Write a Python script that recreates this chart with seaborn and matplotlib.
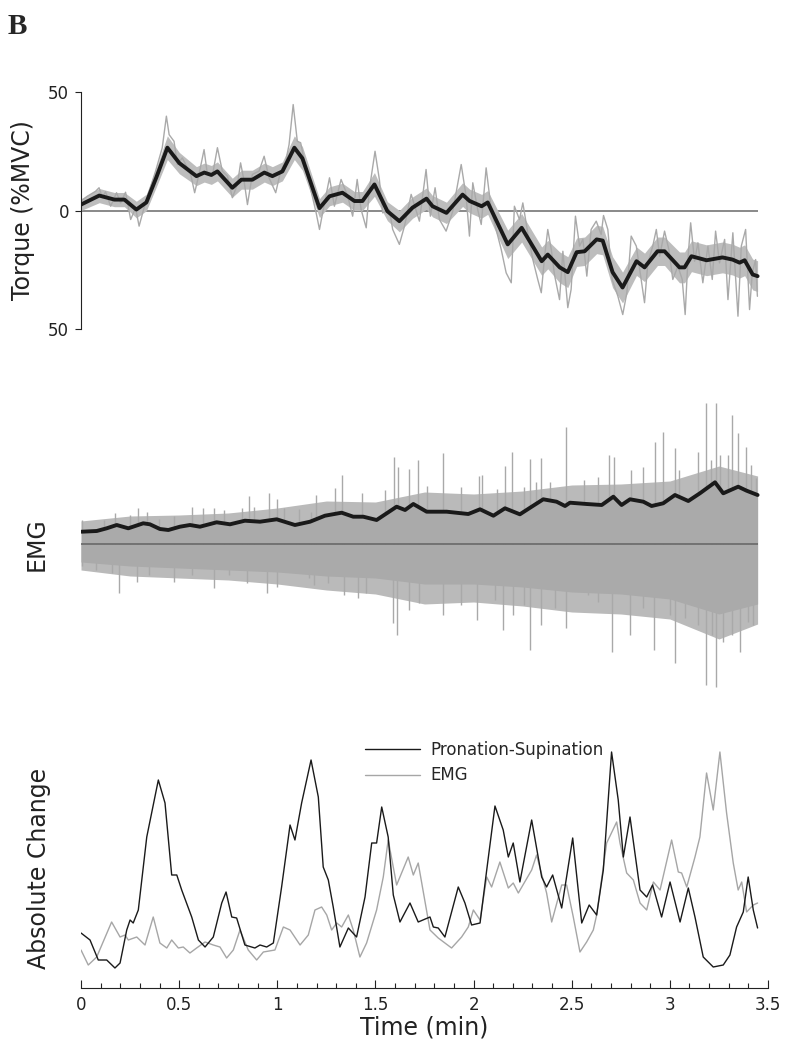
import numpy as np
import pandas as pd
import matplotlib
matplotlib.use("Agg")
import matplotlib.pyplot as plt
from matplotlib.ticker import MultipleLocator
import seaborn as sns

sns.set_style("white")
plt.rcParams["font.family"] = ["DejaVu Sans"]

# ---------------- Panel 1: torque ----------------
torque_smooth_t = [0.0, 0.093, 0.170, 0.221, 0.282, 0.333, 0.384, 0.440, 0.501, 0.588, 0.628, 0.664,
                   0.695, 0.771, 0.817, 0.873, 0.934, 0.975, 1.026, 1.087, 1.128, 1.215, 1.266, 1.332,
                   1.393, 1.434, 1.495, 1.561, 1.622, 1.689, 1.760, 1.791, 1.862, 1.944, 1.980, 2.041,
                   2.072, 2.174, 2.245, 2.347, 2.378, 2.439, 2.480, 2.525, 2.566, 2.627, 2.658, 2.708,
                   2.759, 2.830, 2.871, 2.937, 2.973, 3.049, 3.075, 3.110, 3.187, 3.268, 3.319, 3.355,
                   3.381, 3.422, 3.447]
torque_smooth_v = [2.5, 6.3, 4.6, 4.6, 0.4, 3.4, 14, 26.5, 20, 14.5, 16, 15,
                   16.5, 9.6, 13, 13, 16, 14.5, 16.5, 26.5, 22, 1, 6, 7.5,
                   4, 4, 11, -0.3, -4.5, 1.2, 5, 1.8, -1, 6.7, 4, 1.8,
                   3.4, -14.3, -7.3, -21.4, -18.6, -24, -26, -17.6, -17.2, -12.2, -12.7, -26,
                   -32.5, -21.4, -24, -17.2, -17.2, -24, -24, -19.3, -21, -19.8, -20.7, -22,
                   -21, -27, -27.7]
# half-width of the dense noise band around the smoothed torque
torque_band_hw = [2.5, 3, 3, 3, 3.5, 3.5, 4, 5, 4.5, 4, 4, 4,
                  4, 4, 4, 4, 4, 4, 4, 5, 5, 4, 4, 4,
                  4, 4, 5, 4, 4.5, 4.5, 4.5, 4.5, 4.5, 5, 5, 5,
                  5, 6, 6, 6, 6, 6.5, 6.5, 6, 6, 6, 6, 6.5,
                  6.5, 6, 6, 6, 6, 6.5, 6.5, 6.5, 6.5, 6.5, 6.5, 6.5,
                  6.5, 6.5, 6.5]

torque_raw_t = [0.0, 0.032, 0.074, 0.092, 0.109, 0.125, 0.151, 0.181, 0.202, 0.227, 0.253, 0.278,
                0.296, 0.321, 0.347, 0.380, 0.414, 0.435, 0.449, 0.474, 0.491, 0.516, 0.559, 0.579,
                0.601, 0.627, 0.644, 0.669, 0.695, 0.720, 0.746, 0.771, 0.797, 0.813, 0.831, 0.848,
                0.873, 0.907, 0.933, 0.958, 0.992, 1.017, 1.043, 1.060, 1.081, 1.102, 1.119, 1.145,
                1.170, 1.198, 1.215, 1.231, 1.266, 1.291, 1.325, 1.359, 1.384, 1.407, 1.427, 1.453,
                1.469, 1.498, 1.520, 1.537, 1.571, 1.588, 1.622, 1.648, 1.682, 1.724, 1.758, 1.780,
                1.804, 1.826, 1.860, 1.894, 1.937, 1.962, 1.979, 1.996, 2.021, 2.039, 2.064, 2.090,
                2.115, 2.141, 2.166, 2.192, 2.208, 2.234, 2.251, 2.276, 2.302, 2.327, 2.345, 2.362,
                2.378, 2.396, 2.412, 2.438, 2.455, 2.480, 2.497, 2.519, 2.540, 2.557, 2.577, 2.599,
                2.625, 2.650, 2.662, 2.684, 2.706, 2.735, 2.760, 2.781, 2.803, 2.829, 2.854, 2.871,
                2.888, 2.913, 2.931, 2.948, 2.973, 2.995, 3.015, 3.041, 3.063, 3.078, 3.092, 3.106,
                3.126, 3.143, 3.168, 3.194, 3.216, 3.233, 3.253, 3.279, 3.296, 3.321, 3.347, 3.364,
                3.386, 3.406, 3.420, 3.437, 3.446]
torque_raw_v = [3.9, 6.0, 8.1, 9.6, 5.4, 7.9, 1.8, 7.5, 3.2, 7.7, -3.8, 1.1,
                -6.6, 1.1, 8.1, 16.6, 26.5, 39.8, 32, 29.2, 19.4, 22.2, 15.2, 7.5,
                15.2, 25.7, 15.2, 14.5, 26.5, 16.6, 14.5, 5.4, 11, 20.1, 12.4, 2.5,
                15.2, 16.6, 22.9, 13.8, 7.5, 16.6, 20.8, 27.8, 44.7, 29.2, 28.6, 18,
                9, -1, -8, -1, 13.8, 1.8, 13.1, 6, -2.4, 13.1, 0.4, -7.3,
                8.9, 25, 13.1, -1, 0.4, -8, -14.3, -6.6, 6.8, -4.5, 17.3, -2.4,
                9.6, -3.8, -8.7, -0.3, 19.4, 6, -10.8, 11.7, 0.4, -5.9, 18, 0.4,
                -8, -16.5, -26.3, -30.5, 1.8, -3.8, 3.2, -9.4, -20.7, -29.1, -34.7, -19.3,
                -8, -16.5, -27, -37.6, -17.2, -41, -33.3, -2.4, -15, -12.2, -27.7, -8,
                -4.5, -10.1, -2.1, -8, -29.1, -36.1, -43.9, -34.7, -10.8, -15, -29.1, -38.9,
                -22.1, -15, -8, -19.3, -8.7, -16.5, -29.1, -23.5, -29.1, -43.9, -20.7, -5.2,
                -21.4, -13.6, -30.5, -15, -29.1, -8.7, -22.1, -12.2, -37.6, -9.4, -44.6, -15,
                -8, -41.8, -26.3, -20.7, -36.2]

torque_ticks = [-50, 0, 50]
torque_ticklabels = ["50", "0", "50"]

# ---------------- Panel 2: EMG ----------------
emg_env_t = [0.003, 0.080, 0.131, 0.182, 0.241, 0.317, 0.351, 0.402, 0.445, 0.504, 0.555, 0.606,
             0.691, 0.759, 0.835, 0.912, 0.997, 1.090, 1.167, 1.243, 1.328, 1.387, 1.438, 1.506,
             1.608, 1.651, 1.693, 1.761, 1.863, 1.973, 2.033, 2.101, 2.160, 2.236, 2.296, 2.355,
             2.423, 2.466, 2.491, 2.576, 2.653, 2.712, 2.754, 2.797, 2.865, 2.907, 2.966, 3.026,
             3.094, 3.153, 3.230, 3.272, 3.348, 3.391, 3.447]
emg_env_v = [1.23, 1.3, 1.57, 1.9, 1.57, 2.07, 1.97, 1.5, 1.4, 1.73, 1.9, 1.73,
             2.17, 1.97, 2.33, 2.23, 2.47, 1.9, 2.23, 2.83, 3.13, 2.73, 2.73, 2.4,
             3.73, 3.4, 4.0, 3.23, 3.23, 3.0, 3.47, 2.83, 3.57, 2.97, 3.73, 4.47,
             4.23, 3.8, 4.13, 4.0, 3.9, 4.73, 3.9, 4.47, 4.23, 3.8, 4.07, 4.9,
             4.3, 5.07, 6.17, 5.07, 5.73, 5.33, 4.9]

emg_bin_t = [0.0, 0.25, 0.5, 0.75, 1.0, 1.25, 1.5, 1.75, 2.0, 2.25, 2.5, 2.75, 3.0, 3.25, 3.447]
emg_core_lo = [-1.8, -2.2, -2.4, -2.6, -2.8, -3.2, -3.4, -4.0, -4.0, -4.3, -4.8, -5.0, -5.5, -7.0, -6.0]
emg_fringe_hi = [2.3, 2.8, 2.9, 3.1, 3.6, 4.3, 4.2, 5.2, 5.0, 5.3, 5.9, 6.0, 6.3, 7.8, 6.8]
emg_fringe_lo = [-2.6, -3.2, -3.4, -3.6, -4.0, -4.6, -5.0, -6.0, -5.8, -6.2, -6.8, -7.0, -7.5, -9.5, -8.0]

emg_up_t = [0.007, 0.117, 0.175, 0.251, 0.292, 0.338, 0.398, 0.474, 0.567, 0.623, 0.678, 0.729,
            0.822, 0.856, 0.882, 0.958, 1.001, 1.035, 1.111, 1.170, 1.198, 1.296, 1.328, 1.430,
            1.549, 1.597, 1.614, 1.673, 1.716, 1.764, 1.843, 1.937, 2.030, 2.042, 2.120, 2.161,
            2.197, 2.259, 2.285, 2.319, 2.345, 2.387, 2.472, 2.565, 2.633, 2.688, 2.713, 2.803,
            2.862, 2.922, 2.964, 3.024, 3.049, 3.143, 3.186, 3.211, 3.233, 3.253, 3.296, 3.318,
            3.347, 3.389, 3.415, 3.437]
emg_up_v = [2.4, 2.4, 3.1, 2.9, 3.6, 3.2, 2.5, 2.8, 3.7, 3.6, 3.6, 3.4,
            3.6, 4.8, 3.7, 5.1, 4.5, 3.6, 3.5, 3.2, 4.9, 5.6, 6.9, 5.1,
            5.4, 8.7, 7.7, 7.5, 8.4, 5.8, 9.1, 5.7, 6.8, 6.9, 5.5, 7.8,
            9.2, 5.7, 8.5, 6.2, 8.6, 6.2, 11.7, 6.4, 6.7, 8.9, 8.7, 7.4,
            7.7, 10.2, 11.2, 9.6, 7.4, 9.2, 14.1, 8.4, 14.1, 8.9, 8.9, 12.9,
            11.1, 9.7, 7.9, 6.6]
emg_down_t = [0.007, 0.074, 0.160, 0.194, 0.287, 0.347, 0.474, 0.567, 0.678, 0.754, 0.848, 0.950,
              1.001, 1.094, 1.162, 1.189, 1.257, 1.342, 1.410, 1.453, 1.588, 1.611, 1.673, 1.724,
              1.843, 1.937, 2.018, 2.107, 2.149, 2.200, 2.259, 2.285, 2.345, 2.413, 2.472, 2.582,
              2.633, 2.706, 2.795, 2.862, 2.917, 2.999, 3.024, 3.075, 3.143, 3.186, 3.216, 3.233,
              3.270, 3.318, 3.355, 3.398, 3.423]
emg_down_v = [-2.2, -2.6, -2.9, -4.9, -3.8, -3.1, -3.8, -3.1, -4.4, -3.1, -3.9, -4.9,
              -4.3, -2.9, -3.4, -4.1, -3.9, -5.1, -5.4, -4.9, -7.9, -9.1, -6.6, -5.9,
              -7.1, -6.1, -7.6, -5.6, -8.6, -7.1, -6.1, -10.6, -8.1, -6.4, -8.4, -5.1,
              -5.8, -10.8, -9.1, -6.4, -10.6, -7.1, -11.9, -7.4, -8.1, -14.1, -9.1, -14.3,
              -9.8, -9.1, -10.8, -7.8, -8.1]

# ---------------- Panel 3: absolute change ----------------
ps_t = [0.0, 0.046, 0.088, 0.131, 0.173, 0.199, 0.233, 0.250, 0.266, 0.292, 0.335, 0.394,
        0.428, 0.462, 0.488, 0.513, 0.564, 0.598, 0.632, 0.674, 0.717, 0.739, 0.768, 0.793,
        0.835, 0.886, 0.912, 0.946, 0.980, 1.022, 1.065, 1.090, 1.124, 1.172, 1.209, 1.234,
        1.260, 1.285, 1.319, 1.362, 1.404, 1.447, 1.481, 1.506, 1.532, 1.565, 1.591, 1.625,
        1.676, 1.718, 1.778, 1.795, 1.820, 1.854, 1.922, 1.956, 1.990, 2.033, 2.067, 2.109,
        2.151, 2.177, 2.202, 2.236, 2.296, 2.347, 2.372, 2.403, 2.449, 2.505, 2.551, 2.589,
        2.627, 2.661, 2.703, 2.737, 2.763, 2.797, 2.822, 2.848, 2.882, 2.912, 2.958, 3.001,
        3.052, 3.094, 3.128, 3.170, 3.221, 3.272, 3.306, 3.340, 3.374, 3.399, 3.425, 3.447]
ps_v = [5.7, 5.0, 3.0, 3.0, 2.2, 2.7, 6.0, 7.0, 6.7, 8.0, 15.3, 21.0,
        18.7, 11.5, 11.5, 10.0, 7.3, 5.0, 4.3, 5.3, 8.7, 9.8, 7.3, 7.2,
        4.5, 4.2, 4.5, 4.3, 4.7, 10.3, 16.5, 15.0, 18.7, 23.0, 19.3, 12.3,
        11.0, 8.3, 4.3, 6.2, 5.3, 9.3, 14.7, 14.7, 18.3, 15.3, 9.5, 6.8,
        8.7, 6.8, 7.3, 6.3, 6.2, 5.3, 10.3, 8.7, 6.5, 6.7, 12.0, 18.4,
        16.0, 13.3, 14.7, 10.8, 17.0, 11.3, 10.3, 11.5, 8.2, 15.2, 6.7, 8.5,
        7.5, 12.0, 23.8, 19.0, 13.3, 17.3, 13.7, 10.0, 9.3, 10.5, 7.3, 10.8,
        6.8, 10.2, 7.3, 3.3, 2.3, 2.5, 3.5, 6.3, 7.8, 11.3, 8.0, 6.2]

emgc_t = [0.0, 0.037, 0.080, 0.156, 0.199, 0.224, 0.241, 0.284, 0.326, 0.368, 0.402, 0.437,
          0.462, 0.496, 0.521, 0.555, 0.589, 0.632, 0.674, 0.708, 0.742, 0.776, 0.810, 0.852,
          0.895, 0.929, 0.988, 1.031, 1.065, 1.116, 1.158, 1.192, 1.226, 1.252, 1.277, 1.303,
          1.328, 1.362, 1.387, 1.421, 1.455, 1.506, 1.540, 1.565, 1.608, 1.667, 1.693, 1.718,
          1.778, 1.820, 1.888, 1.939, 1.973, 1.999, 2.033, 2.067, 2.092, 2.134, 2.177, 2.202,
          2.228, 2.296, 2.321, 2.372, 2.398, 2.449, 2.474, 2.508, 2.542, 2.576, 2.610, 2.627,
          2.678, 2.729, 2.746, 2.780, 2.814, 2.848, 2.882, 2.916, 2.950, 3.009, 3.043, 3.060,
          3.086, 3.128, 3.153, 3.187, 3.221, 3.255, 3.289, 3.323, 3.348, 3.366, 3.391, 3.425,
          3.447]
emgc_v = [4.0, 2.5, 3.3, 6.8, 5.3, 5.5, 5.0, 5.3, 4.5, 7.3, 4.7, 4.2,
          5.0, 4.2, 4.3, 3.7, 4.2, 4.8, 4.5, 4.3, 3.2, 4.0, 6.0, 4.0,
          3.0, 3.8, 4.0, 6.3, 6.0, 4.5, 5.5, 8.0, 8.3, 7.5, 6.0, 6.7,
          6.3, 7.5, 6.0, 3.3, 4.7, 8.0, 11.3, 15.0, 10.5, 13.3, 11.5, 12.7,
          6.0, 5.2, 4.2, 5.3, 6.3, 8.0, 7.0, 11.3, 10.3, 12.8, 10.2, 10.7,
          9.7, 12.0, 13.5, 9.7, 6.8, 10.5, 10.5, 7.3, 3.8, 4.8, 6.0, 7.5,
          14.7, 16.8, 14.7, 11.7, 11.0, 8.7, 8.0, 10.8, 10.0, 15.0, 11.8, 11.7,
          10.3, 13.3, 15.3, 21.7, 18.0, 23.8, 17.7, 12.7, 10.0, 10.8, 7.8, 8.5,
          8.7]

time_ticks = [0, 0.5, 1, 1.5, 2, 2.5, 3, 3.5]
time_ticklabels = ["0", "0.5", "1", "1.5", "2", "2.5", "3", "3.5"]

# ---------------- figure ----------------
W, H = 789, 1050
fig = plt.figure(figsize=(W / 100, H / 100), dpi=100)
L, R = 81, 768


def add_ax(top, bottom):
    return fig.add_axes([L / W, 1 - bottom / H, (R - L) / W, (bottom - top) / H])


ax1 = add_ax(92, 329)
ax2 = add_ax(394, 694)
ax3 = add_ax(745, 988)

gray = "#a9a9a9"
dark = "#1a1a1a"
t_end = torque_smooth_t[-1]

# Panel 1
ax1.hlines(0, 0, t_end, color="#808080", lw=1.3, zorder=1)
sm = np.array(torque_smooth_v)
hw = np.array(torque_band_hw)
ax1.fill_between(torque_smooth_t, sm - hw, sm + hw, color="#bdbdbd", lw=0, zorder=1.5)
sns.lineplot(x=torque_raw_t, y=torque_raw_v, ax=ax1, color=gray, lw=1.0,
             estimator=None, sort=False, zorder=2)
sns.lineplot(x=torque_smooth_t, y=torque_smooth_v, ax=ax1, color=dark, lw=2.8,
             estimator=None, sort=False, zorder=3, solid_joinstyle="round")
ax1.set_xlim(0, 3.5)
ax1.set_ylim(-50, 50)
ax1.set_yticks(torque_ticks)
ax1.set_yticklabels(torque_ticklabels)
ax1.set_xticks([])
for s in ["top", "right", "bottom"]:
    ax1.spines[s].set_visible(False)
ax1.spines["left"].set_color("#222222")
ax1.spines["left"].set_linewidth(0.8)
ax1.tick_params(axis="y", direction="out", length=4.5, width=0.8, labelsize=12,
                pad=4, colors="#222222", left=True)
ax1.set_ylabel("Torque (%MVC)", fontsize=17, color="#222222", va="center")
ax1.yaxis.set_label_coords((23 - L) / (R - L), 0.5)

# Panel 2
ax2.fill_between(emg_bin_t, emg_fringe_lo, emg_fringe_hi, color="#bababa", lw=0, zorder=1)
ax2.vlines(emg_up_t, 0, emg_up_v, color=gray, lw=1.0, zorder=2)
ax2.vlines(emg_down_t, emg_down_v, 0, color=gray, lw=1.0, zorder=2)
ax2.fill_between(emg_bin_t, emg_core_lo, 0, color="#aaaaaa", lw=0, zorder=3)
ax2.fill_between(emg_env_t, 0, emg_env_v, color="#aaaaaa", lw=0, zorder=3)
ax2.hlines(0, 0, t_end, color="#6e6e6e", lw=1.3, zorder=4)
sns.lineplot(x=emg_env_t, y=emg_env_v, ax=ax2, color=dark, lw=2.8,
             estimator=None, sort=False, zorder=5, solid_joinstyle="round")
ax2.set_xlim(0, 3.5)
ax2.set_ylim(-15, 15)
ax2.set_xticks([])
ax2.set_yticks([])
for s in ax2.spines.values():
    s.set_visible(False)
ax2.set_ylabel("EMG", fontsize=17, color="#222222", va="center")
ax2.yaxis.set_label_coords((37 - L) / (R - L), 0.5)

# Panel 3
sns.lineplot(x=emgc_t, y=emgc_v, ax=ax3, color="#a6a6a6", lw=1.0,
             estimator=None, sort=False, label="EMG", zorder=2)
sns.lineplot(x=ps_t, y=ps_v, ax=ax3, color=dark, lw=1.0,
             estimator=None, sort=False, label="Pronation-Supination", zorder=3)
ax3.set_xlim(0, 3.5)
ax3.set_ylim(0.2, 24.5)
ax3.set_yticks([])
for s in ["top", "right", "left"]:
    ax3.spines[s].set_visible(False)
ax3.spines["bottom"].set_color("#222222")
ax3.spines["bottom"].set_linewidth(0.8)
ax3.set_xticks(time_ticks)
ax3.set_xticklabels(time_ticklabels)
ax3.xaxis.set_minor_locator(MultipleLocator(0.1))
ax3.tick_params(axis="x", which="major", direction="in", length=5.5, width=0.8,
                labelsize=12, pad=6, colors="#222222", bottom=True)
ax3.tick_params(axis="x", which="minor", direction="in", length=3.5, width=0.8,
                colors="#222222", bottom=True)
ax3.set_xlabel("Time (min)", fontsize=17, color="#222222", labelpad=1)
ax3.set_ylabel("Absolute Change", fontsize=17, color="#222222", va="center")
ax3.yaxis.set_label_coords((39 - L) / (R - L), (988 - 868) / 243)

handles, labels = ax3.get_legend_handles_labels()
order = [labels.index("Pronation-Supination"), labels.index("EMG")]
ax3.legend([handles[i] for i in order], [labels[i] for i in order],
           loc="upper left", bbox_to_anchor=(365 / W, 1 - 741 / H),
           bbox_transform=fig.transFigure, frameon=False, fontsize=12,
           handlelength=3.3, handletextpad=0.6, labelspacing=0.45,
           borderpad=0, borderaxespad=0)

fig.text(8 / W, 1 - 34 / H, "B", family="Liberation Serif", weight="bold",
         fontsize=21, va="baseline", ha="left")

fig.savefig("out.png", dpi=100)
